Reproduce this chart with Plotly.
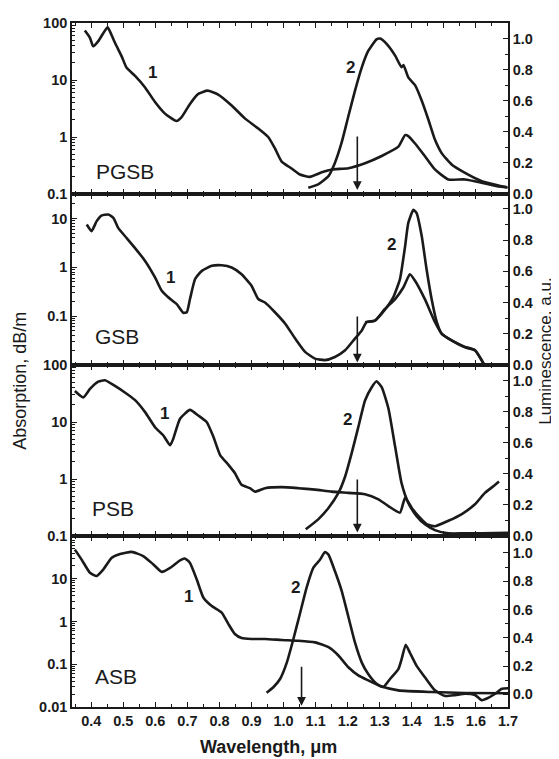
import plotly.graph_objects as go

# ---- data (wavelength in um) ----
# PGSB
wl_abs_pgsb = [0.380, 0.396, 0.406, 0.422, 0.438, 0.451, 0.458, 0.474, 0.495, 0.510, 0.536, 0.568,
               0.599, 0.630, 0.666, 0.682, 0.708, 0.734, 0.763, 0.796, 0.838, 0.880, 0.921, 0.952,
               0.973, 0.994, 1.025, 1.051, 1.082, 1.119, 1.150, 1.202, 1.254, 1.306, 1.358, 1.379,
               1.389, 1.410, 1.441, 1.472, 1.514, 1.566, 1.618, 1.670, 1.696]
abs_pgsb = [73.6, 55, 39, 48, 67, 84, 72, 45, 26, 16.5, 11.9, 7.4,
            4.1, 2.57, 1.91, 2.24, 3.8, 5.7, 6.5, 5.56, 3.58, 2.1, 1.41, 1.0,
            0.63, 0.37, 0.28, 0.22, 0.20, 0.24, 0.27, 0.284, 0.347, 0.465, 0.676, 1.08,
            1.04, 0.77, 0.46, 0.27, 0.18, 0.18, 0.158, 0.136, 0.133]
wl_lum_pgsb = [1.077, 1.108, 1.140, 1.160, 1.181, 1.202, 1.223, 1.244, 1.264, 1.290, 1.301, 1.322,
               1.348, 1.368, 1.374, 1.389, 1.410, 1.431, 1.452, 1.472, 1.493, 1.524, 1.566, 1.618,
               1.670, 1.699]
lum_pgsb = [0.04, 0.062, 0.115, 0.20, 0.33, 0.50, 0.667, 0.815, 0.92, 0.995, 1.0, 0.964,
            0.89, 0.815, 0.83, 0.75, 0.70, 0.60, 0.476, 0.35, 0.263, 0.19, 0.136, 0.083,
            0.055, 0.04]

# GSB
wl_abs_gsb = [0.386, 0.401, 0.417, 0.432, 0.453, 0.469, 0.484, 0.510, 0.536, 0.568, 0.599, 0.620,
              0.640, 0.666, 0.687, 0.698, 0.708, 0.724, 0.745, 0.776, 0.807, 0.838, 0.869, 0.900,
              0.921, 0.942, 0.973, 1.005, 1.036, 1.067, 1.098, 1.129, 1.160, 1.192, 1.223, 1.244,
              1.259, 1.285, 1.316, 1.348, 1.374, 1.394, 1.410, 1.441, 1.472, 1.493, 1.524, 1.566,
              1.597, 1.618, 1.626]
abs_gsb = [7.5, 5.5, 8.8, 11.4, 12, 10.3, 6.4, 4.0, 2.5, 1.35, 0.62, 0.33,
           0.243, 0.178, 0.117, 0.12, 0.224, 0.575, 0.845, 1.07, 1.10, 0.99, 0.72, 0.42,
           0.224, 0.19, 0.12, 0.070, 0.035, 0.0186, 0.0135, 0.0126, 0.0146, 0.02, 0.035, 0.051,
           0.076, 0.081, 0.14, 0.224, 0.39, 0.72, 0.53, 0.22, 0.076, 0.044, 0.032, 0.023,
           0.02, 0.0126, 0.0101]
wl_lum_gsb = [1.254, 1.285, 1.316, 1.342, 1.363, 1.379, 1.389, 1.405, 1.415, 1.431, 1.446, 1.462,
              1.478, 1.493, 1.524, 1.566, 1.597, 1.626]
lum_gsb = [0.274, 0.284, 0.354, 0.433, 0.55, 0.76, 0.91, 0.994, 0.973, 0.824, 0.613, 0.42,
           0.274, 0.20, 0.157, 0.116, 0.095, 0.0]

# PSB
wl_abs_psb = [0.349, 0.375, 0.396, 0.422, 0.443, 0.474, 0.505, 0.536, 0.568, 0.599, 0.625, 0.646,
              0.656, 0.677, 0.708, 0.734, 0.760, 0.781, 0.802, 0.828, 0.848, 0.869, 0.895, 0.911,
              0.942, 0.994, 1.046, 1.098, 1.150, 1.202, 1.254, 1.296, 1.327, 1.363, 1.379, 1.400,
              1.420, 1.446, 1.472, 1.514, 1.556, 1.597, 1.628, 1.660, 1.672]
abs_psb = [35, 27, 38, 51, 54, 43, 33, 24.4, 14.9, 8.1, 5.8, 3.9,
           5.1, 11.4, 16.3, 13, 10, 5.5, 2.63, 1.77, 1.27, 0.79, 0.69, 0.60,
           0.69, 0.72, 0.69, 0.65, 0.60, 0.57, 0.54, 0.44, 0.335, 0.257, 0.47, 0.31,
           0.225, 0.162, 0.148, 0.185, 0.243, 0.36, 0.57, 0.79, 0.90]
wl_lum_psb = [1.069, 1.108, 1.140, 1.171, 1.192, 1.212, 1.233, 1.254, 1.275, 1.290, 1.306, 1.327,
              1.348, 1.368, 1.389, 1.415, 1.441, 1.472, 1.514, 1.566, 1.618, 1.701]
lum_psb = [0.043, 0.107, 0.18, 0.277, 0.383, 0.53, 0.70, 0.872, 0.957, 0.995, 0.957, 0.82,
           0.574, 0.34, 0.213, 0.128, 0.075, 0.038, 0.017, 0.017, 0.017, 0.02]

# ASB
wl_abs_asb = [0.349, 0.370, 0.396, 0.417, 0.438, 0.464, 0.490, 0.526, 0.562, 0.594, 0.620, 0.646,
              0.677, 0.692, 0.708, 0.729, 0.750, 0.776, 0.807, 0.828, 0.848, 0.869, 0.900, 0.942,
              0.994, 1.046, 1.098, 1.140, 1.171, 1.202, 1.233, 1.264, 1.306, 1.358, 1.462, 1.566,
              1.701]
abs_asb = [48, 28, 13.8, 11.6, 16.6, 31, 38, 42.5, 34, 21.6, 14.5, 18,
           27, 29.8, 23.5, 9.7, 3.6, 2.3, 1.62, 0.87, 0.51, 0.41, 0.39, 0.39,
           0.37, 0.355, 0.325, 0.25, 0.16, 0.085, 0.055, 0.042, 0.030, 0.0245, 0.0224, 0.0213,
           0.021]
wl_lum_asb = [0.947, 0.968, 0.989, 1.010, 1.030, 1.051, 1.072, 1.093, 1.114, 1.129, 1.140, 1.160,
              1.181, 1.202, 1.223, 1.244, 1.264, 1.290, 1.311, 1.332, 1.358, 1.368, 1.381, 1.394,
              1.415, 1.441, 1.472, 1.504, 1.535, 1.566, 1.597, 1.618, 1.634, 1.660, 1.681, 1.701]
lum_asb = [0.011, 0.05, 0.108, 0.224, 0.386, 0.57, 0.757, 0.896, 0.953, 1.007, 0.988, 0.872,
           0.733, 0.549, 0.363, 0.224, 0.143, 0.074, 0.051, 0.108, 0.178, 0.247, 0.351, 0.294,
           0.201, 0.12, 0.028, -0.012, -0.006, 0.004, -0.005, -0.042, -0.03, 0.004, 0.039, 0.043]

glass_names = ["PGSB", "GSB", "PSB", "ASB"]
pump_wl = [1.23, 1.23, 1.23, 1.056]

panels = [
    (wl_abs_pgsb, abs_pgsb, wl_lum_pgsb, lum_pgsb),
    (wl_abs_gsb, abs_gsb, wl_lum_gsb, lum_gsb),
    (wl_abs_psb, abs_psb, wl_lum_psb, lum_psb),
    (wl_abs_asb, abs_asb, wl_lum_asb, lum_asb),
]

# per panel axis settings
log_ranges = [[-1, 2], [-2, 1.5], [-1, 2], [-2, 2]]
log_labels = [
    {0.1: "0.1", 1: "1", 10: "10", 100: "100"},
    {0.1: "0.1", 1: "1", 10: "10"},
    {0.1: "0.1", 1: "1", 10: "10", 100: "100"},
    {0.01: "0.01", 0.1: "0.1", 1: "1", 10: "10"},
]
lum_ranges = [[0, 1.10], [0, 1.095], [0, 1.10], [-0.09, 1.12]]

# label positions (x in um, y in luminescence units)
lab1_pos = [(0.59, 0.78), (0.646, 0.56), (0.628, 0.787), (0.703, 0.69)]
lab2_pos = [(1.210, 0.815), (1.337, 0.77), (1.20, 0.75), (1.036, 0.757)]
name_pos = [(0.41, 0.146), (0.405, 0.18), (0.395, 0.18), (0.405, 0.127)]
arrow_y = [(0.38, 0.025), (0.32, 0.016), (0.373, 0.022), (0.206, -0.081)]

ink = "#1a1a1a"
tick_font = dict(family="Liberation Sans, Arial", size=14.5, color=ink, weight="bold")

fig = go.Figure()
# page body has an 8px margin, so the figure is made 8px smaller and margins shifted
layout = dict(
    width=551, height=751,
    margin=dict(l=64, r=51, t=7, b=52),
    paper_bgcolor="white", plot_bgcolor="white",
    showlegend=False,
)

annotations = []
for i, (wa, a, wl, l) in enumerate(panels):
    n = i + 1
    xn = "x" if n == 1 else f"x{n}"
    yl = "y" if n == 1 else f"y{2 * n - 1}"
    yr = f"y{2 * n}"
    top = 1 - 0.25 * i
    dom = [top - 0.25, top]

    fig.add_trace(go.Scatter(x=wa, y=a, xaxis=xn, yaxis=yl, mode="lines",
                             line=dict(color=ink, width=2.6, shape="spline", smoothing=0.5)))
    fig.add_trace(go.Scatter(x=wl, y=l, xaxis=xn, yaxis=yr, mode="lines",
                             line=dict(color=ink, width=2.6, shape="spline", smoothing=0.5)))

    xkey = "xaxis" if n == 1 else f"xaxis{n}"
    layout[xkey] = dict(
        range=[0.34, 1.70], anchor=yl, domain=[0, 1],
        showline=True, linecolor=ink, linewidth=1.6, mirror="ticks",
        ticks="inside", ticklen=5, tickwidth=1.4, tickcolor=ink,
        dtick=0.1, tick0=0.4, tickformat=".1f",
        minor=dict(ticks="inside", ticklen=3, tickwidth=1.2, tickcolor=ink, dtick=0.05, tick0=0.35),
        showgrid=False, zeroline=False,
        showticklabels=(n == 4), tickfont=tick_font,
    )
    if n > 1:
        layout[xkey]["matches"] = "x"

    lo, hi = log_ranges[i]
    major = [10 ** k for k in range(int(lo) - 1, int(hi) + 2)]
    minor_vals = [m * d for d in major for m in range(2, 10)]
    ylkey = "yaxis" if n == 1 else f"yaxis{2 * n - 1}"
    layout[ylkey] = dict(
        type="log", range=log_ranges[i], domain=dom, anchor=xn,
        showline=True, linecolor=ink, linewidth=1.6,
        ticks="inside", ticklen=5, tickwidth=1.4, tickcolor=ink,
        tickmode="array", tickvals=major,
        ticktext=[log_labels[i].get(v, "") for v in major],
        minor=dict(ticks="inside", ticklen=3, tickwidth=1, tickcolor=ink,
                   tickmode="array", tickvals=minor_vals),
        showgrid=False, zeroline=False, tickfont=tick_font,
    )
    layout[f"yaxis{2 * n}"] = dict(
        range=lum_ranges[i], overlaying=yl, side="right", anchor=xn,
        showline=True, linecolor=ink, linewidth=1.6,
        ticks="inside", ticklen=5, tickwidth=1.4, tickcolor=ink,
        tickmode="array", tickvals=[0, 0.2, 0.4, 0.6, 0.8, 1.0],
        ticktext=["0.0", "0.2", "0.4", "0.6", "0.8", "1.0"],
        minor=dict(ticks="inside", ticklen=3, tickwidth=1, tickcolor=ink,
                   tickmode="array", tickvals=[0.1, 0.3, 0.5, 0.7, 0.9]),
        showgrid=False, zeroline=False, tickfont=tick_font,
    )

    # curve numbers
    for txt, (px, py) in (("1", lab1_pos[i]), ("2", lab2_pos[i])):
        annotations.append(dict(x=px, y=py, xref=xn, yref=yr, text=txt, showarrow=False,
                                font=dict(family="Liberation Sans, Arial", size=17,
                                          color=ink, weight="bold")))
    # glass name
    annotations.append(dict(x=name_pos[i][0], y=name_pos[i][1], xref=xn, yref=yr,
                            text=glass_names[i], showarrow=False, xanchor="left",
                            font=dict(family="Liberation Sans, Arial", size=21, color=ink)))
    # pump arrow
    annotations.append(dict(x=pump_wl[i], y=arrow_y[i][1], ax=pump_wl[i], ay=arrow_y[i][0],
                            xref=xn, yref=yr, axref=xn, ayref=yr, text="",
                            showarrow=True, arrowhead=2, arrowsize=1.1, arrowwidth=1.6,
                            arrowcolor=ink))

annotations.append(dict(x=-0.119, y=0.477, xref="paper", yref="paper", text="Absorption, dB/m",
                        textangle=-90, showarrow=False, xanchor="center", yanchor="middle",
                        font=dict(family="Liberation Sans, Arial", size=18, color=ink)))
annotations.append(dict(x=1.086, y=0.52, xref="paper", yref="paper", text="Luminescence, a.u.",
                        textangle=-90, showarrow=False, xanchor="center", yanchor="middle",
                        font=dict(family="Liberation Sans, Arial", size=17, color=ink)))
annotations.append(dict(x=0.45, y=-0.058, xref="paper", yref="paper", text="Wavelength, \u03bcm",
                        showarrow=False, xanchor="center", yanchor="middle",
                        font=dict(family="Liberation Sans, Arial", size=18, color=ink, weight="bold")))
layout["annotations"] = annotations

fig.update_layout(**layout)
fig.write_html("out.html")
